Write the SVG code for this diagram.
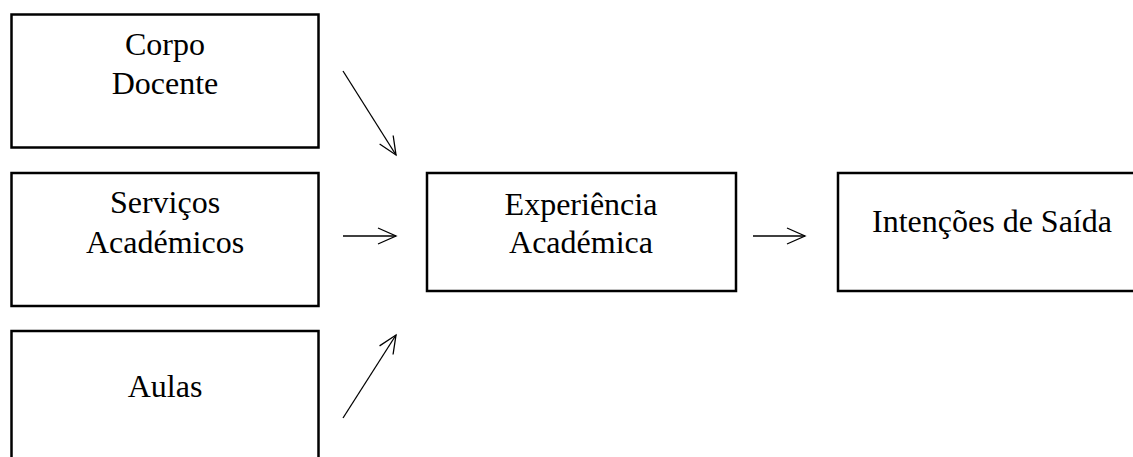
<svg xmlns="http://www.w3.org/2000/svg" width="1133" height="457" viewBox="0 0 1133 457">
  <style>
    .box { fill: #ffffff; stroke: #000000; stroke-width: 2.5; }
    .lbl { font-family: "Liberation Serif", "Times New Roman", serif; font-size: 32px; fill: #000000; text-anchor: middle; }
    .arr { fill: none; stroke: #000000; stroke-width: 1.3; marker-end: url(#open); }
  </style>
  <defs>
    <marker id="open" markerUnits="userSpaceOnUse" markerWidth="24" markerHeight="24" refX="20" refY="10" orient="auto" viewBox="0 0 24 20">
      <path d="M2,2 L20,10 L2,18" fill="none" stroke="#000000" stroke-width="1.3"/>
    </marker>
  </defs>
  <rect width="1133" height="457" fill="#ffffff"/>
  <g id="corpo-docente">
    <rect class="box" x="11.5" y="14.5" width="307" height="133"/>
    <text class="lbl" x="165" y="55">Corpo</text>
    <text class="lbl" x="165" y="94">Docente</text>
  </g>
  <g id="servicos-academicos">
    <rect class="box" x="11.5" y="173" width="307" height="133"/>
    <text class="lbl" x="165" y="213">Serviços</text>
    <text class="lbl" x="165" y="253">Académicos</text>
  </g>
  <g id="aulas">
    <rect class="box" x="11.5" y="331" width="307" height="150"/>
    <text class="lbl" x="165" y="397">Aulas</text>
  </g>
  <g id="experiencia-academica">
    <rect class="box" x="427" y="173" width="309" height="118"/>
    <text class="lbl" x="581" y="215">Experiência</text>
    <text class="lbl" x="581" y="253">Académica</text>
  </g>
  <g id="intencoes-saida">
    <rect class="box" x="838" y="173" width="320" height="118"/>
    <text class="lbl" x="992" y="232">Intenções de Saída</text>
  </g>
  <g id="connectors">
    <line class="arr" x1="343" y1="71" x2="396" y2="155"/>
    <line class="arr" x1="343" y1="236" x2="396" y2="236"/>
    <line class="arr" x1="343" y1="418" x2="396" y2="335"/>
    <line class="arr" x1="753" y1="236" x2="805" y2="236"/>
  </g>
</svg>
